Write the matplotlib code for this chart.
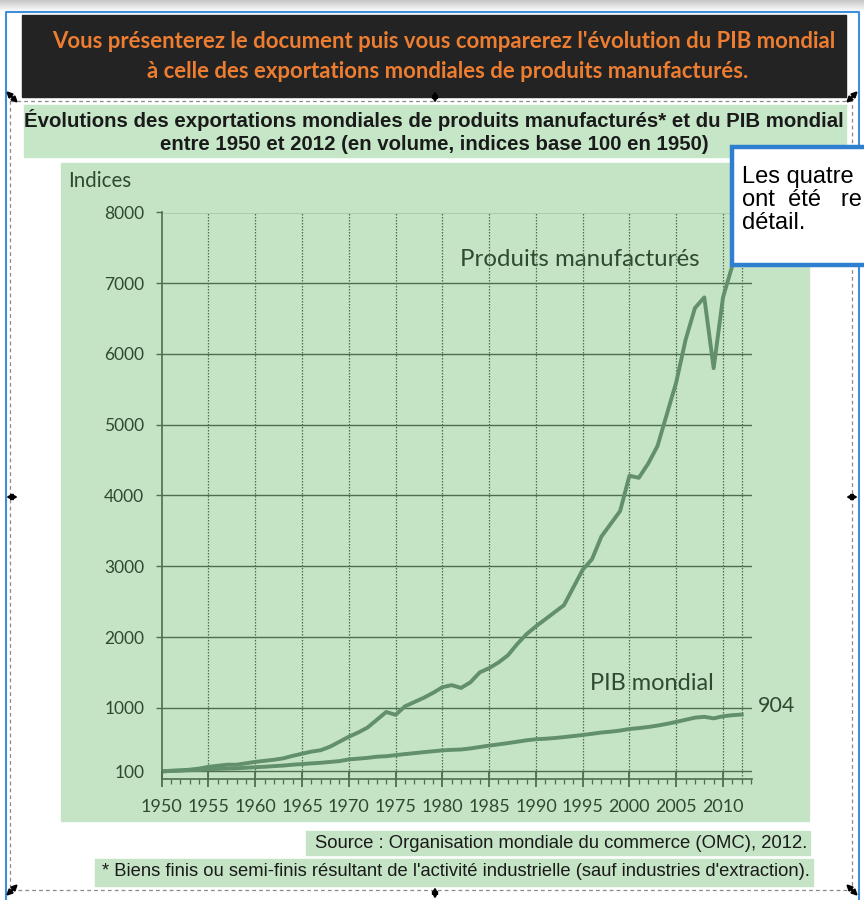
import matplotlib
matplotlib.use("Agg")
from matplotlib import pyplot as plt
from matplotlib import font_manager
from matplotlib.patches import Rectangle
import numpy as np

W, H = 864, 900

years = list(range(1950, 2013))
manufactures = [100, 110, 115, 125, 140, 165, 180, 195, 195, 215,
                235, 250, 265, 285, 320, 350, 380, 400, 450, 520,
                590, 650, 720, 830, 940, 900, 1020, 1080, 1140, 1210,
                1290, 1320, 1280, 1360, 1500, 1560, 1640, 1740, 1900, 2040,
                2150, 2250, 2350, 2450, 2700, 2950, 3100, 3420, 3600, 3780,
                4280, 4250, 4450, 4700, 5150, 5600, 6200, 6650, 6800, 5800,
                6800, 7250, 7450]
pib = [100, 107, 112, 118, 122, 130, 136, 141, 144, 152,
       160, 166, 175, 183, 195, 204, 214, 222, 234, 246,
       270, 280, 292, 308, 315, 330, 345, 358, 372, 385,
       398, 405, 410, 425, 445, 465, 482, 500, 520, 540,
       555, 562, 572, 585, 600, 615, 632, 650, 662, 678,
       700, 712, 728, 748, 772, 800, 830, 860, 872, 850,
       880, 895, 904]

yticks = [100, 1000, 2000, 3000, 4000, 5000, 6000, 7000, 8000]
xticks = list(range(1950, 2011, 5))
vgrid = list(range(1955, 2011, 5)) + [2012]

consigne = ["Vous présenterez le document puis vous comparerez l'évolution du PIB mondial",
            "à celle des exportations mondiales de produits manufacturés."]
titre = ["Évolutions des exportations mondiales de produits manufacturés* et du PIB mondial",
         "entre 1950 et 2012 (en volume, indices base 100 en 1950)"]
source = "Source : Organisation mondiale du commerce (OMC), 2012."
note = "* Biens finis ou semi-finis résultant de l'activité industrielle (sauf industries d'extraction)."
encadre = ["Les quatre", "ont  été   re", "détail."]

installed = {f.name for f in font_manager.fontManager.ttflist}
narrow = "Liberation Sans Narrow" if "Liberation Sans Narrow" in installed else "Liberation Sans"
calibri = "Lato"

green = "#c5e3c5"
green_title = "#c6e6c8"
line_c = "#62906a"
grid_c = "#4d6e50"
txt_c = "#2e4a31"
orange = "#ED7D31"

fig = plt.figure(figsize=(W / 100, H / 100), dpi=100)
bg = fig.add_axes([0, 0, 1, 1])
bg.set_xlim(0, W)
bg.set_ylim(H, 0)
bg.axis("off")
renderer = fig.canvas.get_renderer()


def fit(ax_, x, y, s, width, **kw):
    t = ax_.text(x, y, s, fontsize=12, **kw)
    bb = t.get_window_extent(renderer)
    t.set_fontsize(12 * width / bb.width)
    return t


# ombre en haut
grad = np.linspace(0.78, 1.0, 20).reshape(-1, 1)
bg.imshow(grad, extent=[0, W, 12, 0], cmap="gray", vmin=0, vmax=1, aspect="auto")

# cadre bleu
bg.plot([5.5, 5.5, 858.5, 858.5], [H, 12, 12, H], color="#3d8fd8", lw=1.5)

# consigne
bg.add_patch(Rectangle((22, 15), 824, 82, color="#232323"))
t = fit(bg, 444, 42, consigne[0], 778, family=calibri, weight="bold", color=orange,
        ha="center", va="center")
bg.text(448, 71, consigne[1], fontsize=t.get_fontsize(), family=calibri, weight="bold",
        color=orange, ha="center", va="center")

# cadre de sélection
bg.add_patch(Rectangle((10, 101), 842, 789, fill=False, ec="#8a8a8a", lw=0.9,
                       ls=(0, (3, 2.5))))
for hx, hy, dx, dy in [(12, 97, 1, 1), (435, 97, 0, 1), (852, 97, -1, 1),
                       (12, 497, 1, 0), (852, 497, 1, 0),
                       (12, 890, 1, -1), (435, 893, 0, 1), (852, 890, -1, -1)]:
    bg.annotate("", xy=(hx + 6 * dx, hy + 6 * dy), xytext=(hx - 6 * dx, hy - 6 * dy),
                arrowprops=dict(arrowstyle="<|-|>", color="black", lw=1.6,
                                mutation_scale=8, shrinkA=0, shrinkB=0))

# titre
bg.add_patch(Rectangle((24, 105), 822, 52, color=green_title))
t = fit(bg, 434, 120, titre[0], 818, family=narrow, weight="bold", color="#1a1a1a",
        ha="center", va="center")
bg.text(434, 144, titre[1], fontsize=t.get_fontsize(), family=narrow, weight="bold",
        color="#1a1a1a", ha="center", va="center")

# panneau du graphique
bg.add_patch(Rectangle((61, 163), 748, 658, color=green))
fit(bg, 68, 181, "Indices", 63, family=calibri, color=txt_c, va="center")
fit(bg, 460, 259, "Produits manufacturés", 238, family=calibri, color=txt_c, va="center")
fit(bg, 590, 683, "PIB mondial", 124, family=calibri, color=txt_c, va="center")
fit(bg, 758, 706, "904", 37, family=calibri, color=txt_c, va="center")

# source et note
bg.add_patch(Rectangle((306, 831), 504, 24, color=green))
fit(bg, 807, 843, source, 494, family=narrow, color="#1a1a1a", ha="right", va="center")
bg.add_patch(Rectangle((95, 859), 718, 27, color=green))
fit(bg, 810, 872, note, 711, family=narrow, color="#1a1a1a", ha="right", va="center")

# graphique
x0, x1, ytop, ybot = 161.7, 751.7, 212.5, 778.5
ax = fig.add_axes([x0 / W, 1 - ybot / H, (x1 - x0) / W, (ybot - ytop) / H])
ax.patch.set_visible(False)
ax.set_xlim(1950, 1950 + (x1 - x0) / 9.355)
ax.set_ylim(0, 8000)
for s in ["top", "right"]:
    ax.spines[s].set_visible(False)
for s in ["left", "bottom"]:
    ax.spines[s].set_color(grid_c)
    ax.spines[s].set_linewidth(1.2)

ax.set_yticks(yticks)
ax.set_yticklabels([str(v) for v in yticks])
ax.yaxis.get_major_ticks()[0].tick1line.set_visible(False)
ax.tick_params(axis="y", length=4, width=1, color=grid_c, pad=8.5,
               labelsize=12.5, labelcolor=txt_c)
ax.grid(axis="y", color=grid_c, lw=1.0)
ax.set_xticks(xticks)
ax.set_xticks(list(range(1951, 2014)), minor=True)
ax.tick_params(axis="x", which="major", direction="inout", length=12, width=1.3,
               color=grid_c, pad=8.5, labelsize=13, labelcolor=txt_c)
ax.tick_params(axis="x", which="minor", direction="out", length=3.5, width=0.9,
               color=grid_c)
for lab in ax.get_xticklabels() + ax.get_yticklabels():
    lab.set_family(calibri)
ax.vlines(vgrid, 0, 8000, colors=grid_c, lw=0.9, linestyles=(0, (1.2, 1.2)))

ax.plot(years, manufactures, color=line_c, lw=2.8, solid_joinstyle="round")
ax.plot(years, pib, color=line_c, lw=2.8, solid_joinstyle="round")

# encadré bleu qui recouvre le coin du graphique
cover = fig.add_axes([0, 0, 1, 1])
cover.set_xlim(0, W)
cover.set_ylim(H, 0)
cover.axis("off")
cover.add_patch(Rectangle((732, 147), 160, 118, fc="white", ec="#2f7fd0", lw=3.2))
for i, ligne in enumerate(encadre):
    cover.text(742, 177 + 23 * i, ligne, fontsize=17, family="Liberation Sans",
               color="black", va="center")

fig.savefig("out.png", dpi=100)
